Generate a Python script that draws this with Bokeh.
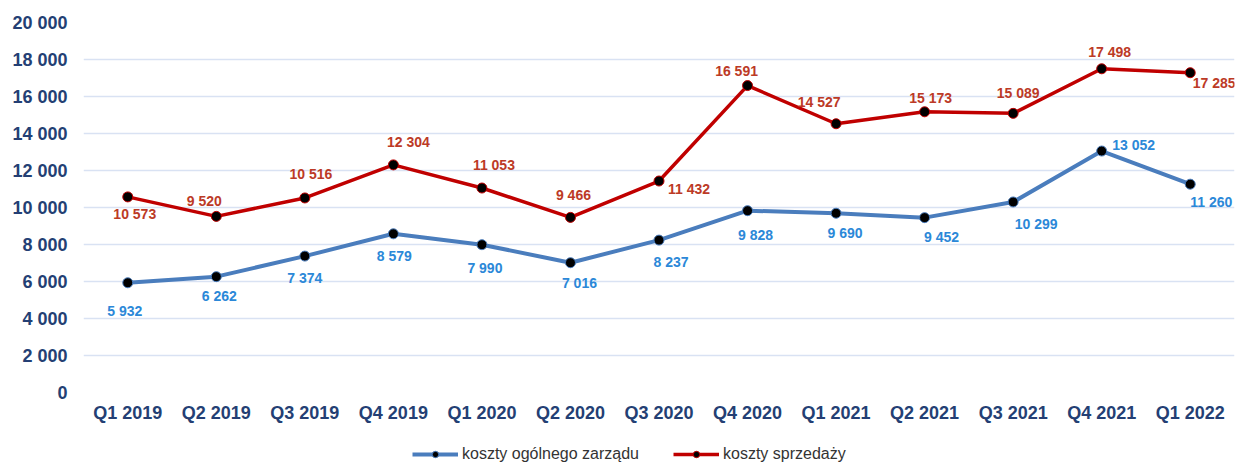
from bokeh.plotting import figure
from bokeh.layouts import column
from bokeh.models import (FactorRange, Range1d, Legend, LegendItem, FixedTicker,
                          CustomJSTickFormatter, ColumnDataSource)
from bokeh.core.properties import value
from bokeh.embed import file_html
from bokeh.resources import INLINE

quarters = ["Q1 2019", "Q2 2019", "Q3 2019", "Q4 2019", "Q1 2020", "Q2 2020", "Q3 2020",
            "Q4 2020", "Q1 2021", "Q2 2021", "Q3 2021", "Q4 2021", "Q1 2022"]
koszty_zarzadu = [5932, 6262, 7374, 8579, 7990, 7016, 8237, 9828, 9690, 9452, 10299, 13052, 11260]
koszty_sprzedazy = [10573, 9520, 10516, 12304, 11053, 9466, 11432, 16591, 14527, 15173, 15089, 17498, 17285]
y_ticks = list(range(0, 20001, 2000))
series_names = ["koszty ogólnego zarządu", "koszty sprzedaży"]

# label placement (style): pixel offsets of each data label from its point
blue_dx = [-3, 3, 0, 1, 3, 9, 12, 8, 9, 17, 23, 32, 21]
blue_dy = [28, 19, 22, 22, 23, 20, 22, 24, 20, 19, 22, -6, 18]
red_dx = [7, -12, 6, 15, 12, 3, 30, -11, -17, 6, 5, 8, 24]
red_dy = [17, -15, -24, -23, -23, -22, 8, -15, -22, -14, -20, -17, 10]

BLUE = "#4a7dbd"
RED = "#c00000"
BLUE_LBL = "#2b88d8"
RED_LBL = "#bc3a26"
AXIS_TXT = "#243f74"
FONT = "Liberation Sans"
W = 1236


def fmt(v):
    return f"{v:,}".replace(",", " ")


src_b = ColumnDataSource(dict(x=quarters, y=koszty_zarzadu,
                              t=[fmt(v) for v in koszty_zarzadu], dx=blue_dx, dy=blue_dy))
src_r = ColumnDataSource(dict(x=quarters, y=koszty_sprzedazy,
                              t=[fmt(v) for v in koszty_sprzedazy], dx=red_dx, dy=red_dy))

p = figure(width=W, height=432, x_range=FactorRange(*quarters), y_range=Range1d(0, 20000),
           output_backend="svg", toolbar_location=None,
           min_border_left=83, min_border_right=2, min_border_top=22, min_border_bottom=40)
p.outline_line_color = None
p.background_fill_color = "white"
p.border_fill_color = "white"

p.xgrid.grid_line_color = None
p.ygrid.grid_line_color = "#d9e2f3"
p.ygrid.grid_line_width = 1.5
p.yaxis.ticker = FixedTicker(ticks=y_ticks)
p.yaxis.formatter = CustomJSTickFormatter(
    code="return tick.toFixed(0).replace(/\\B(?=(\\d{3})+(?!\\d))/g, ' ');")

for ax in (p.xaxis, p.yaxis):
    ax.axis_line_color = None
    ax.major_tick_line_color = None
    ax.minor_tick_line_color = None
    ax.major_tick_out = 0
    ax.major_tick_in = 0
    ax.major_label_text_font = FONT
    ax.major_label_text_font_style = "bold"
    ax.major_label_text_font_size = "18px"
    ax.major_label_text_color = AXIS_TXT
p.yaxis.major_label_standoff = 16
p.xaxis.major_label_standoff = 10

p.line("x", "y", source=src_b, line_color=BLUE, line_width=4)
p.scatter("x", "y", source=src_b, size=10, fill_color="black", line_color=BLUE, line_width=1)
p.line("x", "y", source=src_r, line_color=RED, line_width=3.5)
p.scatter("x", "y", source=src_r, size=10, fill_color="black", line_color=RED, line_width=1)

p.text("x", "y", text="t", source=src_b, x_offset="dx", y_offset="dy",
       text_font=value(FONT), text_font_style="bold", text_font_size="14px",
       text_color=BLUE_LBL, text_align="center", text_baseline="middle")
p.text("x", "y", text="t", source=src_r, x_offset="dx", y_offset="dy",
       text_font=value(FONT), text_font_style="bold", text_font_size="14px",
       text_color=RED_LBL, text_align="center", text_baseline="middle")

# legend strip below the chart (series drawn out of view; only the legend shows)
lg = figure(width=W, height=32, x_range=FactorRange(*quarters), y_range=Range1d(-2, -1),
            output_backend="svg", toolbar_location=None,
            x_axis_type=None, y_axis_type=None,
            min_border_left=0, min_border_right=0, min_border_top=0, min_border_bottom=0)
lg.outline_line_color = None
lg.xgrid.grid_line_color = None
lg.ygrid.grid_line_color = None
lb = lg.line("x", "y", source=src_b, line_color=BLUE, line_width=4)
sb = lg.scatter("x", "y", source=src_b, size=8, fill_color="black", line_color=BLUE, line_width=1)
lr = lg.line("x", "y", source=src_r, line_color=RED, line_width=3.5)
sr = lg.scatter("x", "y", source=src_r, size=8, fill_color="black", line_color=RED, line_width=1)

legend = Legend(items=[LegendItem(label=series_names[0], renderers=[lb, sb]),
                       LegendItem(label=series_names[1], renderers=[lr, sr])],
                location=(329, 1), orientation="horizontal",
                glyph_width=46, glyph_height=16, label_height=16, label_standoff=4,
                spacing=34, padding=0, margin=0,
                label_text_font=FONT, label_text_font_size="16px", label_text_color="#333333",
                border_line_color=None, background_fill_alpha=0)
lg.add_layout(legend, "center")

layout = column(p, lg, spacing=0)
open("out.html", "w").write(file_html(layout, INLINE))
